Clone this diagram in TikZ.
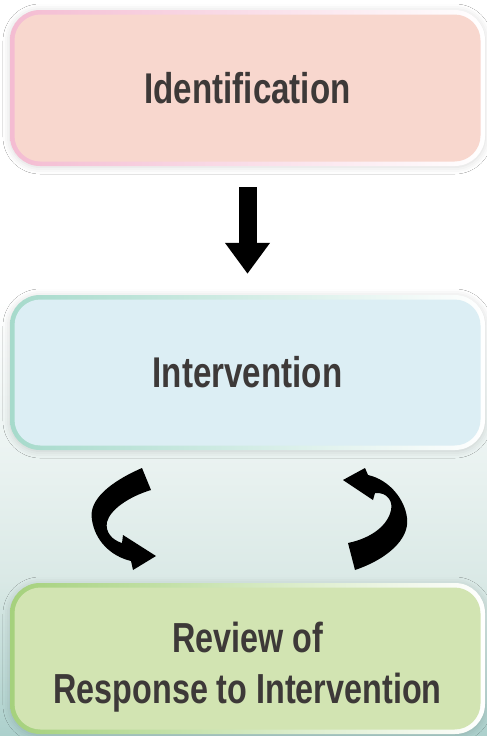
\documentclass[tikz,border=0pt]{standalone}
\usepackage{fontspec}
\usepackage{xcolor}
\usepackage{tikz}
\usetikzlibrary{arrows.meta,shadows.blur}
\newfontfamily\stagefont{Liberation Sans}[FakeStretch=0.77]
\definecolor{identfill}{HTML}{F8D7CE}
\definecolor{identline}{HTML}{F4BCD2}
\definecolor{intervfill}{HTML}{DCEEF4}
\definecolor{intervline}{HTML}{A6DACB}
\definecolor{reviewfill}{HTML}{D2E4B2}
\definecolor{reviewline}{HTML}{A5D17C}
\definecolor{stagetext}{HTML}{3D3938}
\definecolor{bgmid}{HTML}{DAE9E6}
\definecolor{bgbot}{HTML}{ACD0CC}
\begin{document}
\begin{tikzpicture}[x=1pt,y=-1pt,
  stage/.style 2 args={rounded corners=30pt, minimum width=475pt, inner sep=0pt,
    align=center, text=stagetext,
    font=\stagefont\bfseries\fontsize{43}{51}\selectfont,
    blur shadow={shadow xshift=0pt,shadow yshift=-1pt,shadow blur radius=7pt,shadow opacity=15},
    path picture={
      \shade[left color=#2, right color=white]
        (path picture bounding box.south west) rectangle (path picture bounding box.north east);
      \fill[#1, rounded corners=26pt]
        ([shift={(4.5pt,4.5pt)}]path picture bounding box.south west) rectangle
        ([shift={(-4.5pt,-4.5pt)}]path picture bounding box.north east);
    }},
  blockarrow/.style={line width=18pt, -{Triangle[width=43pt,length=31pt]},
    shorten <=21pt, shorten >=21pt},
  loop/.style={fill=black}]
  \useasboundingbox (0,0) rectangle (487,736);
  % background
  \fill[white] (0,0) rectangle (487,300);
  \shade[top color=white, bottom color=bgmid] (0,300) rectangle (487,580);
  \shade[top color=bgmid, bottom color=bgbot] (0,580) rectangle (487,736);

  \node[stage={identfill}{identline}, minimum height=156pt] (ident) at (247.5,88) {Identification};
  \node[stage={intervfill}{intervline}, minimum height=155pt] (interv) at (247.5,372.5) {Intervention};
  \node[stage={reviewfill}{reviewline}, minimum height=151pt, text height=89pt, text depth=0pt,
        font=\stagefont\bfseries\fontsize{42}{51}\selectfont] (review) at (247.5,658.5)
        {Review of\\Response to Intervention};

  \draw[blockarrow] (ident) -- (interv);

  % intervention -> review
  \path[loop] (142,468) .. controls (110,482) and (88,500) .. (92,520)
    .. controls (95,540) and (110,556) .. (131,561) -- (133,570) -- (156,556) -- (123,535) -- (122,543)
    .. controls (112,540) and (105,532) .. (107,522)
    .. controls (110,510) and (128,497) .. (151,490) -- cycle;
  % review -> intervention
  \path[loop] (348,543) -- (355,570) .. controls (385,560) and (410,540) .. (407,518)
    .. controls (405,500) and (390,480) .. (368,475) -- (365,468) -- (343,480) -- (373,500) -- (375,493)
    .. controls (388,492) and (393,502) .. (391,510)
    .. controls (388,525) and (372,538) .. (348,543) -- cycle;
\end{tikzpicture}
\end{document}
